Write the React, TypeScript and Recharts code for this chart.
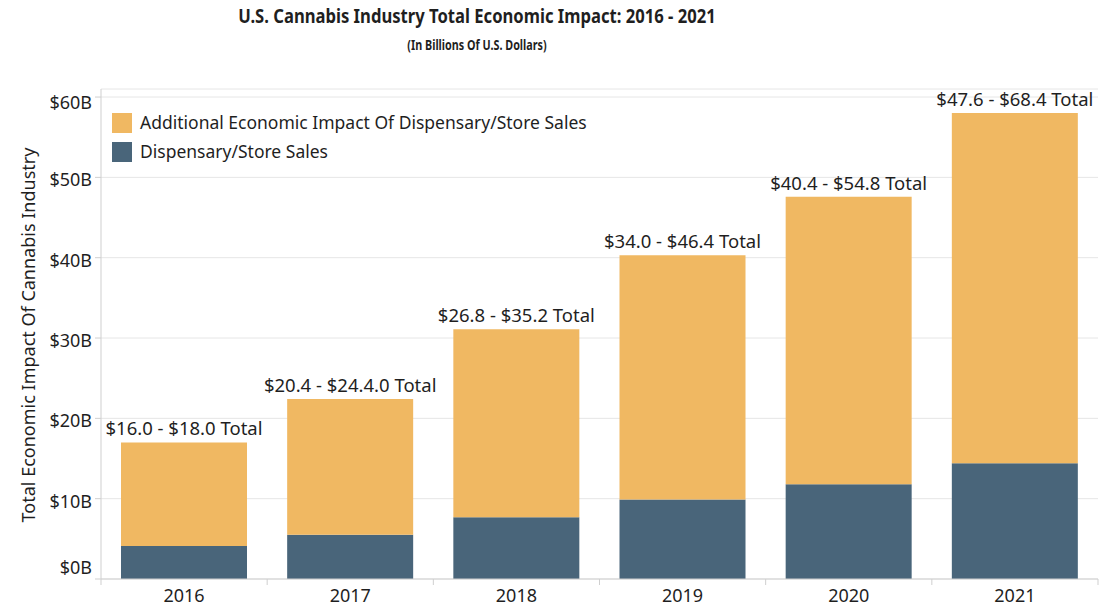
import React from 'react';
import { BarChart, Bar, XAxis, YAxis, CartesianGrid, LabelList } from 'recharts';

const years = ['2016', '2017', '2018', '2019', '2020', '2021'];
const storeSales = [4.1, 5.5, 7.7, 9.9, 11.8, 14.4];
const additionalImpact = [12.9, 16.9, 23.4, 30.4, 35.8, 43.6];
const rangeLabels = [
  '$16.0 - $18.0 Total',
  '$20.4 - $24.4.0 Total',
  '$26.8 - $35.2 Total',
  '$34.0 - $46.4 Total',
  '$40.4 - $54.8 Total',
  '$47.6 - $68.4 Total',
];
const yTicks = [0, 10, 20, 30, 40, 50, 60];
const legendItems = [
  { name: 'Additional Economic Impact Of Dispensary/Store Sales', color: '#F0B862' },
  { name: 'Dispensary/Store Sales', color: '#49657A' },
];

const ORANGE = '#F0B862';
const SLATE = '#49657A';
const FONT = '"Noto Sans", "Open Sans", sans-serif';
const TEXT = '#1f1f1f';

const data = years.map((year, i) => ({
  year,
  store: storeSales[i],
  additional: additionalImpact[i],
  label: rangeLabels[i],
}));

const YTick = ({ x, y, payload }: any) => {
  const v = payload.value;
  // end labels get nudged inside the axis range, like the original
  const shift = v === 0 ? -12 : v === 60 ? 5 : 2;
  return (
    <text x={x} y={y + shift} textAnchor="end" dominantBaseline="central" fontSize={18} fontFamily={FONT} fill={TEXT}>
      ${v}B
    </text>
  );
};

const XTick = ({ x, y, payload, index }: any) => {
  const half = payload.offset || 83;
  return (
    <g>
      <line x1={x - half} x2={x - half} y1={y} y2={y + 6} stroke="#cfcfcf" />
      {index === years.length - 1 && <line x1={x + half} x2={x + half} y1={y} y2={y + 6} stroke="#cfcfcf" />}
      <text x={x} y={y + 23} textAnchor="middle" fontSize={18} fontFamily={FONT} fill={TEXT}>
        {payload.value}
      </text>
    </g>
  );
};

const TopLabel = (props: any) => {
  const { x, y, width, value } = props;
  return (
    <text x={x + width / 2} y={y - 7} textAnchor="middle" fontSize={18.5} fontFamily={FONT} fill={TEXT}>
      {value}
    </text>
  );
};

export default function App() {
  return (
    <div style={{ position: 'absolute', left: 0, top: 0, width: 1101, height: 607, background: '#fff', fontFamily: FONT }}>
      <div style={{ position: 'absolute', left: 477, top: 3, transform: 'translateX(-50%) scaleX(0.875)', whiteSpace: 'nowrap', fontWeight: 700, fontSize: 19, color: TEXT }}>
        U.S. Cannabis Industry Total Economic Impact: 2016 - 2021
      </div>
      <div style={{ position: 'absolute', left: 477, top: 35, transform: 'translateX(-50%) scaleX(0.77)', whiteSpace: 'nowrap', fontWeight: 700, fontSize: 14, color: TEXT }}>
        (In Billions Of U.S. Dollars)
      </div>
      <div style={{ position: 'absolute', left: 28, top: 335, transform: 'translate(-50%, -50%) rotate(-90deg)', whiteSpace: 'nowrap', fontSize: 18, color: TEXT }}>
        Total Economic Impact Of Cannabis Industry
      </div>
      <BarChart width={1101} height={607} data={data} margin={{ top: 89, right: 3, left: 0, bottom: 0 }} barSize={126}>
        <CartesianGrid vertical={false} stroke="#e6e6e6" />
        <XAxis dataKey="year" height={28} tick={<XTick />} tickLine={false} tickSize={0} tickMargin={0} axisLine={{ stroke: '#cfcfcf' }} />
        <YAxis
          width={101}
          domain={[0, 61]}
          ticks={yTicks}
          interval={0}
          tick={<YTick />}
          tickSize={6}
          tickMargin={3}
          tickLine={{ stroke: '#cfcfcf' }}
          axisLine={{ stroke: '#cfcfcf' }}
        />
        <Bar dataKey="store" stackId="s" fill={SLATE} isAnimationActive={false} />
        <Bar dataKey="additional" stackId="s" fill={ORANGE} isAnimationActive={false}>
          <LabelList dataKey="label" content={<TopLabel />} />
        </Bar>
      </BarChart>
      <div style={{ position: 'absolute', left: 112, top: 108, fontSize: 17.5, color: TEXT, lineHeight: '29px' }}>
        {legendItems.map((item) => (
          <div key={item.name} style={{ display: 'flex', alignItems: 'center' }}>
            <span style={{ width: 20, height: 20, background: item.color, marginRight: 8, display: 'inline-block' }} />
            <span>{item.name}</span>
          </div>
        ))}
      </div>
    </div>
  );
}
